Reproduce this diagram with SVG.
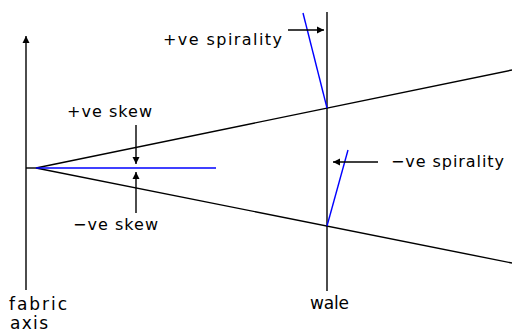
<svg xmlns="http://www.w3.org/2000/svg" width="512" height="333" viewBox="0 0 512 333">
  <style>
    .ln { stroke: #000; stroke-width: 1.4; fill: none; }
    .bl { stroke: #0000ff; stroke-width: 1.4; fill: none; }
    .lbl { font-family: "DejaVu Sans", "Liberation Sans", sans-serif; font-size: 16px; fill: #000; }
    .big { font-family: "DejaVu Sans", "Liberation Sans", sans-serif; font-size: 17px; fill: #000; }
  </style>
  <defs>
    <marker id="ah" markerUnits="userSpaceOnUse" markerWidth="8" markerHeight="8" viewBox="0 0 8 8" refX="7" refY="4" orient="auto">
      <path d="M0,0.5 L7,4 L0,7.5 Z" fill="#000"/>
    </marker>
  </defs>
  <rect width="512" height="333" fill="#fff"/>
  <g id="connectors">
    <line class="ln" x1="26" y1="290" x2="26" y2="36" marker-end="url(#ah)"/>
    <line class="ln" x1="26" y1="168" x2="36" y2="168"/>
    <line class="ln" x1="36" y1="168" x2="512" y2="70"/>
    <line class="ln" x1="36" y1="168" x2="512" y2="263"/>
    <line class="ln" x1="327" y1="12" x2="327" y2="291"/>
    <line class="bl" x1="36" y1="168" x2="216" y2="168"/>
    <line class="bl" x1="327" y1="108" x2="303" y2="13"/>
    <line class="bl" x1="327" y1="226" x2="348" y2="150"/>
    <line class="ln" x1="288" y1="30" x2="324" y2="30" marker-end="url(#ah)"/>
    <line class="ln" x1="378" y1="162" x2="333" y2="162" marker-end="url(#ah)"/>
    <line class="ln" x1="136" y1="125" x2="136" y2="164" marker-end="url(#ah)"/>
    <line class="ln" x1="136" y1="213" x2="136" y2="172" marker-end="url(#ah)"/>
  </g>
  <g id="label-pos-spirality"><text class="lbl" x="163" y="45" textLength="119" lengthAdjust="spacing">+ve spirality</text></g>
  <g id="label-neg-spirality"><text class="lbl" x="391" y="167" textLength="113" lengthAdjust="spacing">−ve spirality</text></g>
  <g id="label-pos-skew"><text class="lbl" x="67" y="117" textLength="85" lengthAdjust="spacing">+ve skew</text></g>
  <g id="label-neg-skew"><text class="lbl" x="73" y="230" textLength="85" lengthAdjust="spacing">−ve skew</text></g>
  <g id="fabric-axis">
    <text class="big" x="9" y="310" textLength="58" lengthAdjust="spacing">fabric</text>
    <text class="big" x="10" y="329" textLength="38" lengthAdjust="spacing">axis</text>
  </g>
  <g id="wale"><text class="big" x="310" y="309" textLength="39" lengthAdjust="spacing">wale</text></g>
</svg>
